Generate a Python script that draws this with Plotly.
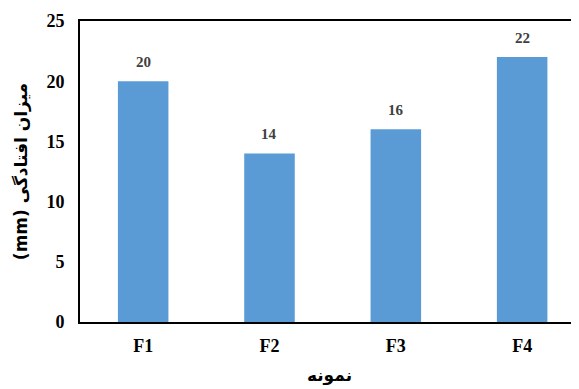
import plotly.graph_objects as go

samples = ["F1", "F2", "F3", "F4"]
deflection = [20, 14, 16, 22]
y_ticks = [0, 5, 10, 15, 20, 25]

BAR_COLOR = "#5B9BD5"
FONT = "Liberation Serif"

fig = go.Figure(go.Bar(
    x=samples,
    y=deflection,
    marker=dict(color=BAR_COLOR, line=dict(width=0)),
    width=0.4,
))

for s, v in zip(samples, deflection):
    fig.add_annotation(
        x=s, y=v, text=f"<b>{v}</b>", showarrow=False,
        yanchor="bottom", yshift=9,
        font=dict(family=FONT, size=15, color="#404040"),
    )

# page body has an 8px margin, so the figure is 8px smaller than the window
fig.update_layout(
    width=571,
    height=381,
    margin=dict(l=72, r=0, t=13, b=67),
    plot_bgcolor="white",
    paper_bgcolor="white",
    showlegend=False,
    font=dict(family=FONT, color="black"),
    xaxis=dict(
        range=[-0.5, 3.45],
        automargin=False,
        showline=True, linecolor="black", linewidth=2, mirror=True,
        ticks="", showgrid=False,
        tickfont=dict(family=FONT, size=18),
        tickvals=samples,
        ticktext=[f"<b>{s}</b>" for s in samples],
        ticklabelstandoff=6,
        title=dict(text="<b>نمونه</b>", font=dict(family="DejaVu Sans", size=17), standoff=15),
    ),
    yaxis=dict(
        range=[0, 25],
        automargin=False,
        tickvals=y_ticks,
        ticktext=[f"<b>{t}</b>" for t in y_ticks],
        showline=True, linecolor="black", linewidth=2,
        ticks="", showgrid=False, zeroline=False,
        tickfont=dict(family=FONT, size=18),
        ticklabelstandoff=10,
        title=dict(text="<b>(mm) میزان افتادگی</b>", font=dict(family="DejaVu Sans", size=17), standoff=14),
    ),
)

fig.write_html("out.html")
